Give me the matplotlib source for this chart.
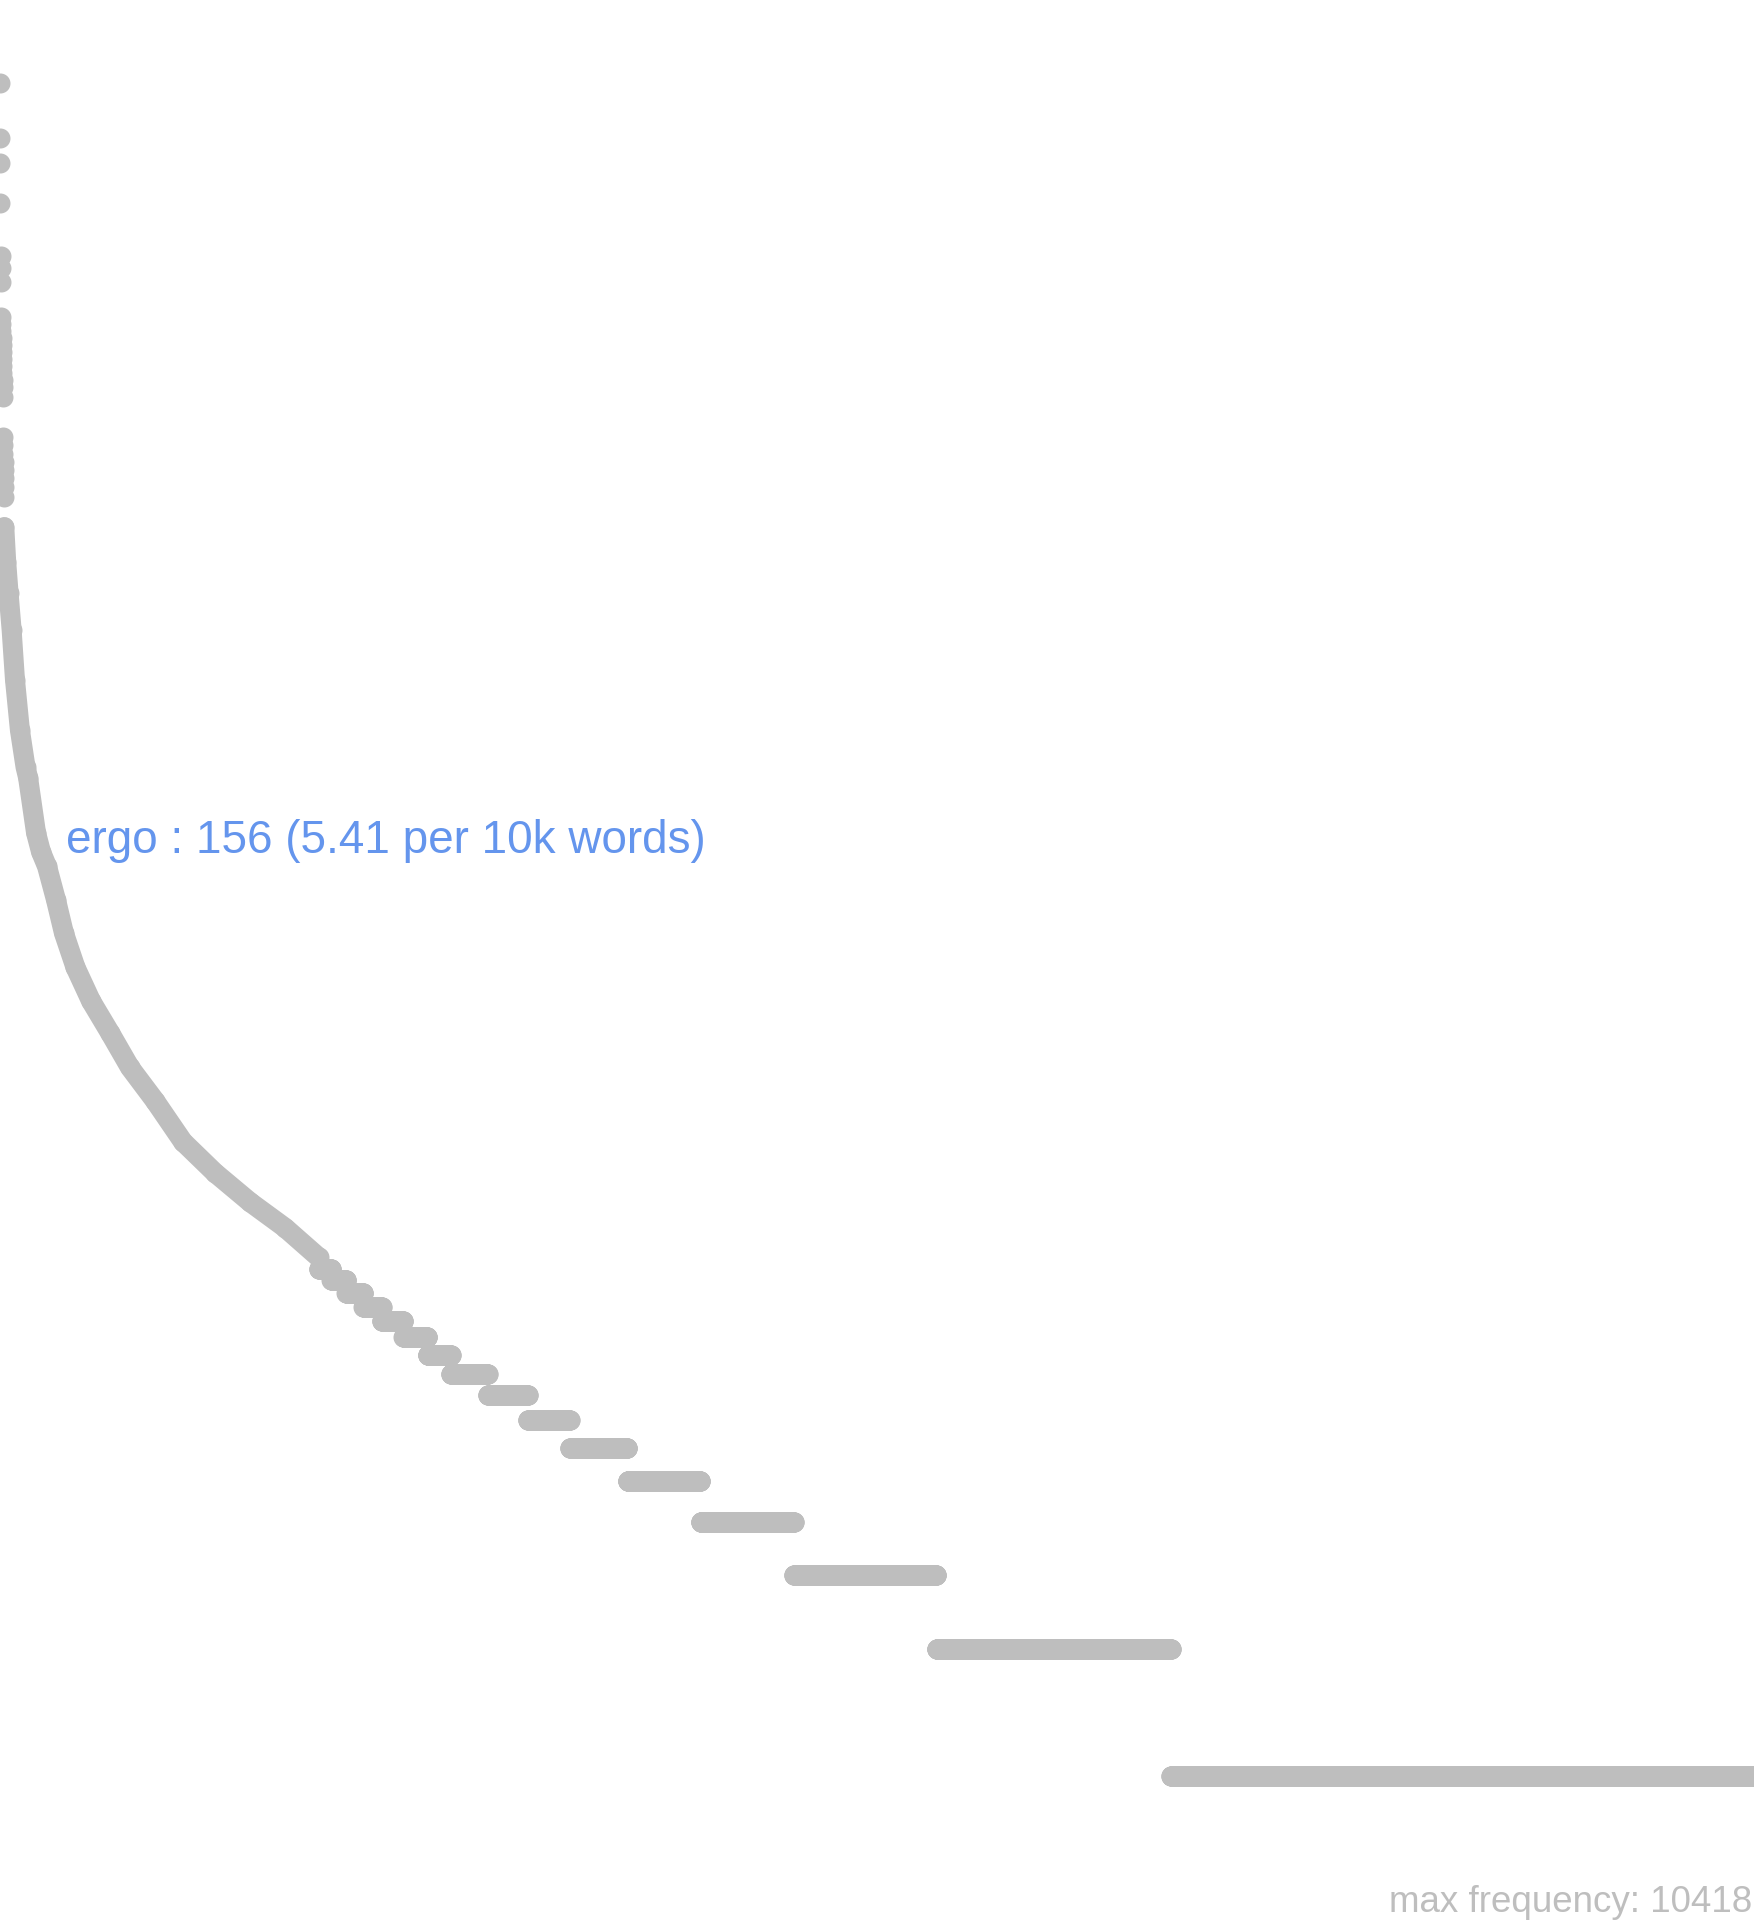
import numpy as np
import matplotlib.pyplot as plt

# Word frequency by rank (x: rank, linear; y: frequency, log scale).
N_WORDS = 11000

head_freq = [10418, 7723, 6714, 5395, 4057, 3790, 3507,
             2899, 2790, 2685, 2585, 2488, 2394, 2305, 2218, 2135, 2055, 1978, 1873,
             1505, 1441, 1372, 1313, 1257, 1203, 1145, 1084]

# Middle of the curve, read as (rank, frequency) points along the band.
curve_rank = [28, 40, 55, 74, 95, 126, 161, 177, 227, 258, 296, 352, 402, 474,
              572, 691, 816, 973, 1148, 1349, 1569, 1788, 2000]
curve_freq = [920, 760, 640, 524, 399, 303, 248, 234, 173, 156, 144, 120, 100, 83,
              69, 58, 48, 40, 32, 27, 23, 20, 17]

# Low-frequency tail: number of words at each frequency.
tail_freq = [16, 15, 14, 13, 12, 11, 10, 9, 8, 7, 6, 5, 4, 3, 2, 1]
tail_count = [78, 94, 107, 116, 135, 151, 147, 232, 251, 263, 361, 458, 586, 894, 1471, 3656]

highlight_word = "ergo"
highlight_rank = 258
highlight_freq = 156
highlight_per10k = 5.41

GREY = "#BEBEBE"
BLUE = "#6495ED"
DOT = 14.4  # marker diameter in points
FONT = ["Liberation Sans", "DejaVu Sans"]


def main():
    fig = plt.figure(figsize=(17.54, 19.2), dpi=100)
    fig.patch.set_facecolor("white")
    ax = fig.add_axes([0, 0, 1, 1])
    ax.set_yscale("log")

    head_rank = np.arange(1, len(head_freq) + 1)
    tail_y = np.repeat(tail_freq, tail_count)
    tail_x = np.arange(curve_rank[-1] + 1, curve_rank[-1] + 1 + len(tail_y))

    ax.scatter(head_rank, head_freq, s=DOT ** 2, c=GREY, linewidths=0)
    ax.plot(curve_rank, curve_freq, color=GREY, linewidth=DOT,
            solid_capstyle="round", solid_joinstyle="round")
    ax.scatter(curve_rank, curve_freq, s=DOT ** 2, c=GREY, linewidths=0)
    ax.scatter(tail_x, tail_y, s=DOT ** 2, c=GREY, linewidths=0)

    label = f"{highlight_word} : {highlight_freq} ({highlight_per10k} per 10k words)"
    ax.annotate(label, (highlight_rank, highlight_freq), xytext=(18, -1),
                textcoords="offset points", ha="left", va="baseline",
                fontsize=33, color=BLUE, family=FONT)

    ax.set_xlim(1, N_WORDS)
    ax.set_ylim(0.455, 16390)
    ax.axis("off")

    fig.text(0.999, 8 / 1920, f"max frequency: {max(head_freq)}",
             ha="right", va="baseline", fontsize=26.5, color=GREY, family=FONT)

    fig.savefig("out.png", dpi=100, facecolor="white")


if __name__ == "__main__":
    main()
